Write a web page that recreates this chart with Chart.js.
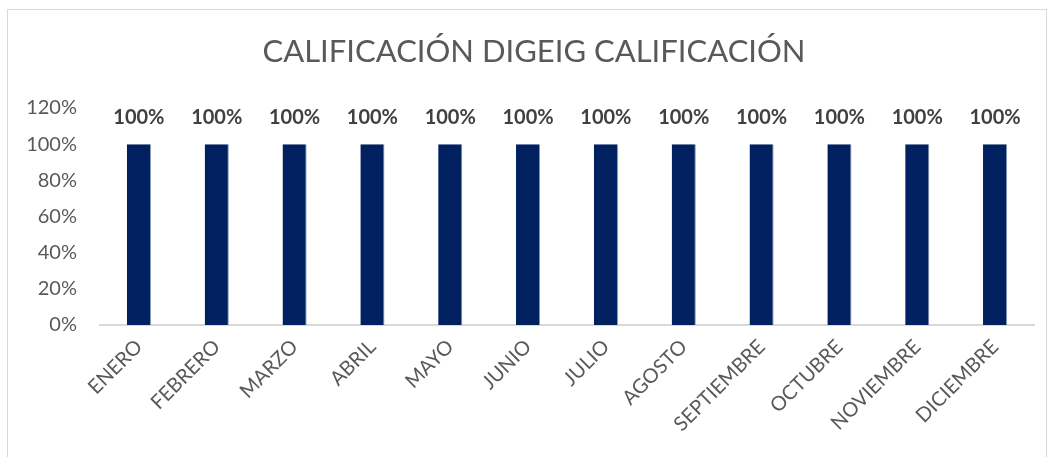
<!DOCTYPE html>
<html>
<head>
<meta charset="utf-8">
<script src="https://cdn.jsdelivr.net/npm/chart.js@4"></script>
<style>
  html, body { margin: 0; padding: 0; background: #fff; }
  #wrap { position: relative; width: 1049px; height: 457px; overflow: hidden; }
  #frame { position: absolute; left: 7px; top: 9px; width: 1040px; height: 470px; border: 1px solid #d9d9d9; box-sizing: border-box; }
  canvas { position: absolute; left: 0; top: 0; }
</style>
</head>
<body>
<div id="wrap">
  <div id="frame"></div>
  <canvas id="chart" width="1049" height="457"></canvas>
</div>
<script>
const months = ["ENERO", "FEBRERO", "MARZO", "ABRIL", "MAYO", "JUNIO", "JULIO", "AGOSTO", "SEPTIEMBRE", "OCTUBRE", "NOVIEMBRE", "DICIEMBRE"];
const calificacion = [1, 1, 1, 1, 1, 1, 1, 1, 1, 1, 1, 1];
const yTicks = [0, 0.2, 0.4, 0.6, 0.8, 1.0, 1.2];
const titleText = "CALIFICACIÓN DIGEIG CALIFICACIÓN";

const FONT = "Lato, Carlito, Calibri, sans-serif";
const pct = v => Math.round(v * 100) + "%";

// title (centred a bit right of the canvas, like the original) and labels above the bars
const extras = {
  id: "extras",
  afterDatasetsDraw(chart) {
    const ctx = chart.ctx;
    const meta = chart.getDatasetMeta(0);
    ctx.save();
    ctx.textAlign = "center";
    ctx.textBaseline = "middle";

    ctx.font = "31px " + FONT;
    ctx.fillStyle = "#595959";
    ctx.fillText(titleText, 534, 52);

    ctx.font = "bold 20px " + FONT;
    ctx.fillStyle = "#404040";
    meta.data.forEach((bar, i) => {
      ctx.fillText(pct(calificacion[i]), bar.x, bar.y - 27);
    });
    ctx.restore();
  }
};

new Chart(document.getElementById("chart"), {
  type: "bar",
  data: {
    labels: months,
    datasets: [{
      label: "CALIFICACIÓN",
      data: calificacion,
      backgroundColor: "#002060",
      borderColor: "#8497b0",
      borderWidth: { left: 0, right: 1, top: 0, bottom: 0 },
      categoryPercentage: 1,
      barPercentage: 0.31
    }]
  },
  options: {
    responsive: false,
    animation: false,
    layout: { padding: { left: 8, right: 15, top: 108, bottom: 0 } },
    plugins: {
      legend: { display: false },
      tooltip: { enabled: false },
      title: { display: false }
    },
    scales: {
      x: {
        grid: { display: false },
        border: { display: true, color: "#d9d9d9", width: 2 },
        ticks: {
          color: "#595959",
          font: { family: FONT, size: 20 },
          maxRotation: 45,
          minRotation: 45,
          padding: 2
        },
        afterFit(scale) { scale.height = 132; }
      },
      y: {
        min: 0,
        max: 1.2,
        grid: { display: false, drawTicks: false },
        border: { display: false },
        afterBuildTicks(scale) { scale.ticks = yTicks.map(v => ({ value: v })); },
        ticks: {
          color: "#595959",
          font: { family: FONT, size: 20 },
          padding: 23,
          callback: v => pct(v)
        },
        afterFit(scale) { scale.width = 92; }
      }
    }
  },
  plugins: [extras]
});
</script>
</body>
</html>
